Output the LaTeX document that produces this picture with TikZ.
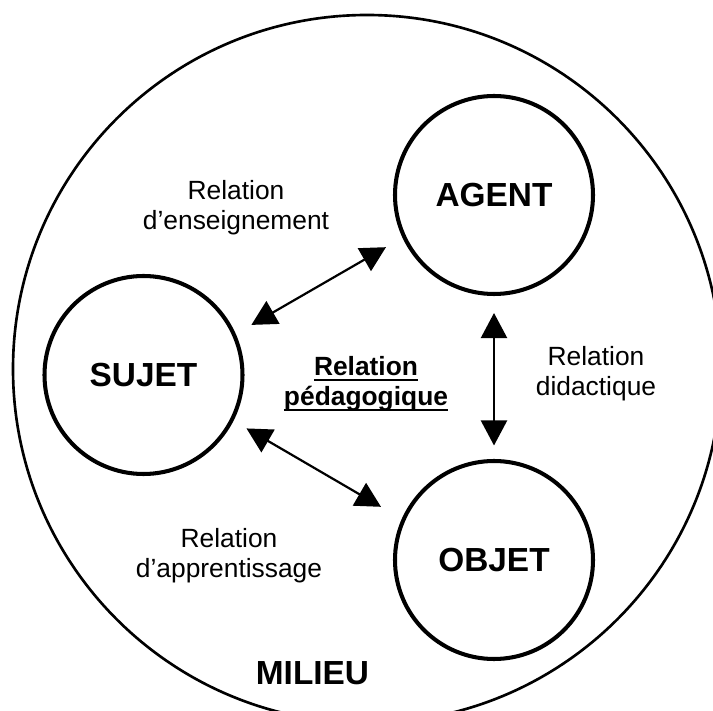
\documentclass[tikz,border=0pt]{standalone}
\usepackage{fontspec}
\setmainfont{Liberation Sans}
\usepackage{tikz}
\usetikzlibrary{arrows.meta}
\tikzstyle{pole}=[draw, circle, line width=2.3pt, minimum size=3.96cm, inner sep=0pt, font=\fontsize{19}{22}\selectfont\bfseries]
\tikzstyle{relation}=[align=center, font=\fontsize{15}{17}\selectfont]
\tikzstyle{liaison}=[line width=1.25pt, {Triangle[length=.5cm,width=.52cm]}-{Triangle[length=.5cm,width=.52cm]}]
\newcommand{\souligne}[1]{\setbox0\hbox{#1}\rlap{\rule[-2.8pt]{\wd0}{1.1pt}}\box0}

\begin{document}
\begin{tikzpicture}
 \useasboundingbox (0,0) rectangle (14.26,14.2);
 \draw[line width=1.5pt] (7.34,6.82) circle (7.08cm);
%
 \node[pole] (sujet) at (2.87,6.70) {SUJET};
 \node[pole] (agent) at (9.88,10.30) {AGENT};
 \node[pole] (objet) at (9.88,3.00) {OBJET};
%
 \draw[liaison, shorten <=.36cm, shorten >=.38cm] (sujet.24) -- (agent.205);
 \draw[liaison, shorten <=.30cm, shorten >=.48cm] (sujet.-27) -- (objet.156);
 \draw[liaison, shorten <=.34cm, shorten >=.27cm] (agent.south) -- (objet.north);
%
 \node[relation] (enseignement) at (4.72,10.04) {Relation\\d’enseignement};
 \node[relation, font=\fontsize{15}{17}\selectfont\bfseries] (pedagogique) at (7.32,6.52) {\souligne{Relation}\\\souligne{pédagogique}};
 \node[relation] (didactique) at (11.92,6.72) {Relation\\didactique};
 \node[relation] (apprentissage) at (4.58,3.08) {Relation\\d’apprentissage};
 \node[font=\fontsize{19}{22}\selectfont\bfseries] (milieu) at (6.25,.73) {MILIEU};
\end{tikzpicture}
\end{document}
